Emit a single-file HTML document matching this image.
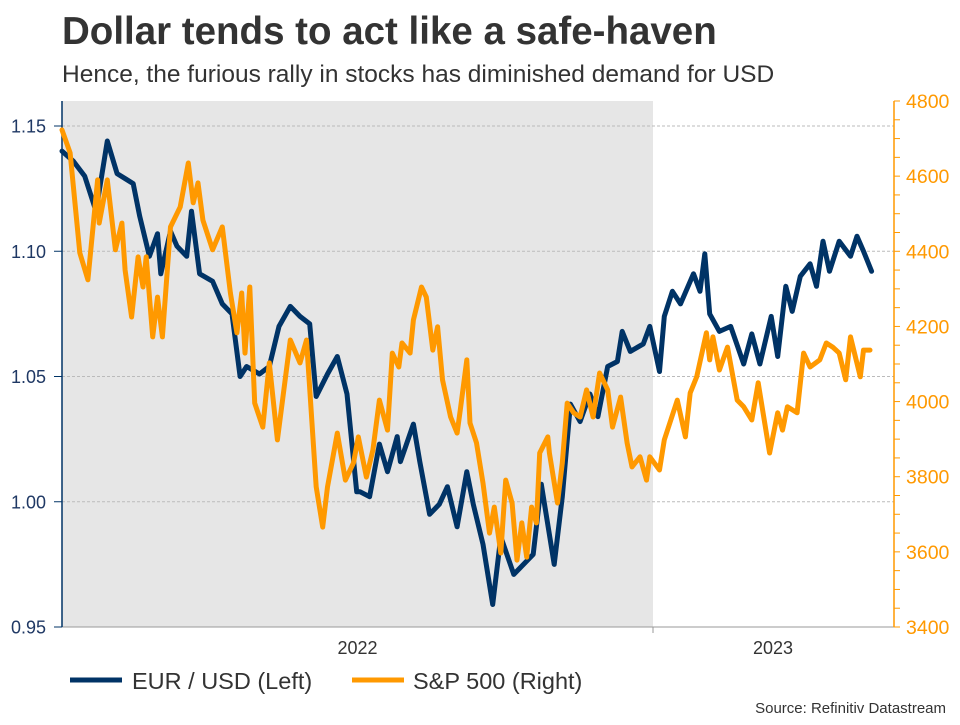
<!DOCTYPE html>
<html><head><meta charset="utf-8"><style>
body{margin:0;background:#fff;width:960px;height:720px;overflow:hidden;font-family:"Liberation Sans",sans-serif}
</style></head><body>
<svg width="960" height="720" viewBox="0 0 960 720" xmlns="http://www.w3.org/2000/svg">
<text x="62" y="44" font-size="38.5" font-weight="bold" fill="#333">Dollar tends to act like a safe-haven</text>
<text x="62" y="82" font-size="24.5" fill="#333">Hence, the furious rally in stocks has diminished demand for USD</text>
<g id="plot"></g>
<g>
<line x1="70" y1="680" x2="122" y2="680" stroke="#003366" stroke-width="5"/>
<text x="132" y="689" font-size="23.5" fill="#333">EUR / USD (Left)</text>
<line x1="352" y1="680" x2="404" y2="680" stroke="#ff9900" stroke-width="5"/>
<text x="413" y="689" font-size="23.5" fill="#333">S&amp;P 500 (Right)</text>
</g>
<text x="946" y="713" font-size="15" fill="#333" text-anchor="end">Source: Refinitiv Datastream</text>
</svg>
<script>
const eurDays=[0,7,14,21,28,34,44,48,54,59,61,67,71,77,80,85,93,99,105,110,114,122,128,134,141,147,153,157,164,170,176,182,184,190,196,201,207,209,217,221,227,233,238,244,250,254,260,266,271,279,285,291,296,304,309,314,320,326,331,337,343,346,351,359,363,369,372,377,382,390,394,397,400,406,413,421,426,431,438,442,447,451,456,462,466,470,474,480,487,491,495,500];
const eurVals=[1.140,1.136,1.130,1.116,1.144,1.131,1.127,1.114,1.098,1.107,1.091,1.108,1.102,1.098,1.116,1.091,1.088,1.079,1.075,1.050,1.054,1.051,1.054,1.070,1.078,1.074,1.071,1.042,1.051,1.058,1.043,1.004,1.004,1.002,1.023,1.012,1.026,1.016,1.031,1.016,0.995,0.999,1.006,0.990,1.012,0.999,0.983,0.959,0.986,0.971,0.975,0.979,1.007,0.975,1.002,1.039,1.032,1.043,1.034,1.054,1.056,1.068,1.060,1.063,1.070,1.052,1.074,1.084,1.079,1.091,1.084,1.099,1.075,1.068,1.070,1.055,1.067,1.055,1.074,1.058,1.086,1.076,1.090,1.095,1.086,1.104,1.092,1.104,1.098,1.106,1.100,1.092];
const spxDays=[0,5,11,16,22,23,28,33,37,39,43,47,50,52,56,59,62,67,73,78,81,84,87,93,99,104,108,111,113,116,119,124,128,133,141,147,151,157,161,164,170,175,180,183,188,192,196,201,204,208,210,215,217,222,225,229,232,235,240,244,246,250,252,256,260,264,267,271,274,278,281,284,287,290,293,295,300,301,306,309,312,316,320,324,328,332,337,340,345,349,352,357,361,363,369,372,380,385,388,392,398,400,402,406,411,417,421,426,430,437,442,445,448,454,458,462,468,472,476,480,484,487,493,495,499];
const spxVals=[4723,4662,4396,4324,4590,4475,4590,4404,4475,4350,4225,4385,4305,4385,4172,4278,4172,4465,4518,4635,4529,4582,4483,4404,4465,4289,4183,4289,4129,4305,3996,3932,4103,3898,4164,4103,4164,3773,3666,3773,3916,3791,3837,3906,3799,3871,4004,3924,4129,4092,4156,4129,4217,4305,4278,4137,4199,4058,3959,3916,3978,4111,3943,3890,3783,3650,3719,3597,3791,3730,3578,3677,3586,3719,3677,3863,3906,3863,3730,3837,3996,3970,3959,4031,3959,4076,4031,3932,4012,3890,3826,3853,3791,3853,3818,3898,4004,3906,4023,4066,4183,4111,4172,4084,4145,4004,3986,3951,4050,3863,3970,3924,3986,3970,4129,4092,4111,4156,4145,4129,4058,4172,4066,4137,4137];
const leftTicks=[0.95,1.00,1.05,1.10,1.15];
const leftTickLabels=["0.95","1.00","1.05","1.10","1.15"];
const rightTicks=[3400,3600,3800,4000,4200,4400,4600,4800];
const yearLabels=["2022","2023"];
const yearStarts=[0,365];

const NS="http://www.w3.org/2000/svg";
const X0=62,X1=894,Y0=101,Y1=627;
const xDay=d=>62+d*(591/365);
const yL=v=>627-(v-0.95)*2505;
const yR=v=>627-(v-3400)*(526/1400);
const g=document.getElementById('plot');
function mk(t,a){const e=document.createElementNS(NS,t);for(const k in a)e.setAttribute(k,a[k]);g.appendChild(e);return e;}

let e=mk('rect',{x:X0,y:Y0,width:xDay(365)-X0,height:Y1-Y0,fill:'#e6e6e6'});



leftTicks.forEach((t,i)=>{
  const y=yL(t);
  if(i>0){const l=mk('line',{x1:X0,x2:X1,y1:y,y2:y,stroke:'#bbb','stroke-width':1,'stroke-dasharray':'3,2'});
  
  }
  const tk=mk('line',{x1:X0-8,x2:X0,y1:y,y2:y,stroke:'#003366','stroke-width':1});
  
  
  const tx=mk('text',{x:46,y:y+6.5,'font-size':18,fill:'#1f3864','text-anchor':'end'});
  tx.textContent=leftTickLabels[i];
  
  
});
for(let v=3400;v<=4800;v+=50){
  const y=yR(v);
  const tk=mk('line',{x1:X1,x2:X1+6,y1:y,y2:y,stroke:'#ff9900','stroke-width':1});
  
  
}
rightTicks.forEach(t=>{
  const y=yR(t);
  const tx=mk('text',{x:906,y:y+7,'font-size':19.5,fill:'#ff9900'});
  tx.textContent=String(t);
  
  
});
e=mk('line',{x1:X0,x2:X1,y1:Y1,y2:Y1,stroke:'#999','stroke-width':1});


e=mk('line',{x1:xDay(365),x2:xDay(365),y1:Y1,y2:Y1+6,stroke:'#999','stroke-width':1});


yearLabels.forEach((lab,i)=>{
  const cx=i===0?(xDay(0)+xDay(365))/2:773;
  const tx=mk('text',{x:cx,y:654,'font-size':18,fill:'#333','text-anchor':'middle'});
  tx.textContent=lab;
  
  
});
e=mk('line',{x1:X0,x2:X0,y1:Y0,y2:Y1,stroke:'#003366','stroke-width':1.5});


e=mk('line',{x1:X1,x2:X1,y1:Y0,y2:Y1,stroke:'#ff9900','stroke-width':1.5});



const eurPts=eurDays.map((d,i)=>xDay(d).toFixed(1)+','+yL(eurVals[i]).toFixed(1)).join(' ');
const spxPts=spxDays.map((d,i)=>xDay(d).toFixed(1)+','+yR(spxVals[i]).toFixed(1)).join(' ');
e=mk('polyline',{points:eurPts,fill:'none',stroke:'#003366','stroke-width':5,'stroke-linejoin':'round','stroke-linecap':'round'});


e=mk('polyline',{points:spxPts,fill:'none',stroke:'#ff9900','stroke-width':5,'stroke-linejoin':'round','stroke-linecap':'round'});


</script>
</body></html>
